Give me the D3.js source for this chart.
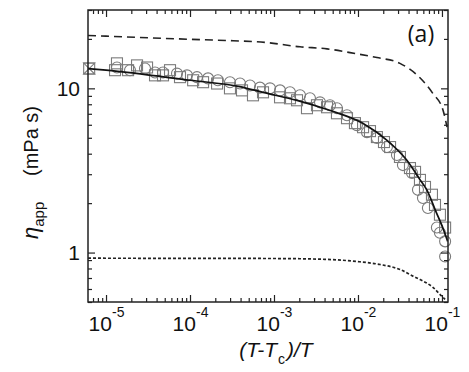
<!DOCTYPE html>
<html>
<head>
<meta charset="utf-8">
<script src="https://cdn.jsdelivr.net/npm/d3@7"></script>
<style>
  body { margin: 0; background: #fff; }
  svg { display: block; }
</style>
</head>
<body>
<div id="canvas"></div>
<script>
// x = (T-Tc)/T, y = apparent viscosity (mPa s)
const circleData = [
  [1.35e-5, 13.4], [1.93e-5, 12.9], [2.91e-5, 13.2], [3.83e-5, 12.5], [4.77e-5, 12.5],
  [7.0e-5, 12.3], [9.2e-5, 12.0], [1.21e-4, 11.7], [1.64e-4, 11.5], [2.15e-4, 11.2],
  [2.99e-4, 10.9], [3.94e-4, 10.7], [5.18e-4, 10.4], [6.8e-4, 10.1], [8.96e-4, 10.0],
  [1.18e-3, 9.72], [1.55e-3, 9.46], [2.04e-3, 9.07], [2.68e-3, 8.7], [3.53e-3, 8.22],
  [4.64e-3, 7.89], [5.62e-3, 7.57], [7.4e-3, 6.86], [9.7e-3, 5.97], [1.28e-2, 5.41],
  [1.68e-2, 4.98], [2.21e-2, 4.39], [2.91e-2, 3.93], [3.43e-2, 3.41], [4.4e-2, 3.05],
  [5.18e-2, 2.41], [5.94e-2, 2.15], [6.8e-2, 1.87], [8.7e-2, 1.42], [9.46e-2, 1.32],
  [0.109, 1.17], [0.109, 0.946]
];

const squareData = [
  [6.3e-6, 13.2],
  [1.35e-5, 14.2], [1.28e-5, 12.9], [1.83e-5, 12.9], [2.34e-5, 13.8], [3.08e-5, 13.4],
  [3.83e-5, 12.0], [4.77e-5, 12.0], [5.78e-5, 12.9], [7.6e-5, 11.7], [1.09e-4, 11.2],
  [1.43e-4, 10.9], [2.1e-4, 10.7], [2.99e-4, 10.0], [4.16e-4, 9.72], [5.62e-4, 9.07],
  [7.4e-4, 9.46], [1.18e-3, 8.82], [1.55e-3, 8.7], [1.88e-3, 8.46], [2.47e-3, 7.57],
  [3.25e-3, 7.89], [4.28e-3, 7.67], [5.62e-3, 7.05], [7.4e-3, 6.58], [9.2e-3, 6.14],
  [1.15e-2, 5.8], [1.39e-2, 5.49], [1.68e-2, 5.05], [2.04e-2, 4.71], [2.41e-2, 4.39],
  [3.16e-2, 3.82], [4.16e-2, 3.27], [4.78e-2, 3.1], [5.47e-2, 2.77], [6.28e-2, 2.51],
  [7.6e-2, 2.25], [8.26e-2, 1.95], [9.46e-2, 1.7], [0.109, 1.42]
];

// up + down triangle pair (hourglass) series
const triangleData = [
  [6.3e-6, 13.2]
];

const fitLine = [
  [6.1e-6, 13.2], [1e-5, 12.9], [1e-4, 11.2], [3.9e-4, 10.25], [7.4e-4, 9.45],
  [1.88e-3, 8.45], [4.6e-3, 7.35], [1.14e-2, 6.13], [2.2e-2, 4.84], [3.8e-2, 3.66],
  [5.5e-2, 2.77], [6.6e-2, 2.41], [8.5e-2, 1.77], [0.1, 1.46], [0.117, 1.17]
];

const upperLine = [
  [6.1e-6, 21.0], [1e-5, 20.8], [3.3e-5, 20.3], [1.31e-4, 19.8], [3.25e-4, 19.5],
  [8.26e-4, 19.0], [2.04e-3, 17.9], [4.28e-3, 17.4], [8.04e-3, 16.5], [1.68e-2, 15.4],
  [3.16e-2, 14.2], [5.47e-2, 11.6], [7.8e-2, 9.3], [0.103, 7.35], [0.115, 5.8]
];

const lowerLine = [
  [6.1e-6, 0.924], [1e-4, 0.922], [1e-3, 0.92], [4e-3, 0.91], [9.7e-3, 0.882],
  [1.83e-2, 0.846], [3.16e-2, 0.789], [4.6e-2, 0.715], [5.47e-2, 0.686], [7.8e-2, 0.614],
  [0.1, 0.541], [0.109, 0.519]
];

const xMajorTicks = [1e-5, 1e-4, 1e-3, 1e-2, 1e-1];
const xTickExponents = ["-5", "-4", "-3", "-2", "-1"];
const yMajorTicks = [1, 10];
const yTickLabels = ["1", "10"];

const width = 469, height = 372;
const plot = { left: 88, right: 448, top: 10, bottom: 302 };
const font = "'Liberation Sans', Arial, sans-serif";

const svg = d3.select("#canvas").append("svg")
  .attr("width", width)
  .attr("height", height)
  .style("font-family", font);

svg.append("rect").attr("width", width).attr("height", height).attr("fill", "#fff");

const x = d3.scaleLog().domain([6.1e-6, 0.118]).range([plot.left, plot.right]);
const y = d3.scaleLog().domain([0.5, 30]).range([plot.bottom, plot.top]);

const xMinor = x.ticks().filter(d => !xMajorTicks.some(m => Math.abs(m - d) / m < 1e-6));
const yMinor = y.ticks().filter(d => !yMajorTicks.some(m => Math.abs(m - d) / m < 1e-6));

svg.append("clipPath").attr("id", "clip")
  .append("rect")
  .attr("x", plot.left).attr("y", plot.top)
  .attr("width", plot.right - plot.left).attr("height", plot.bottom - plot.top);

// markers
const markers = svg.append("g")
  .attr("fill", "none")
  .attr("stroke", "#7a7a7a")
  .attr("stroke-width", 1.1);

markers.selectAll(".sq").data(squareData).enter().append("rect")
  .attr("x", d => x(d[0]) - 5.5)
  .attr("y", d => y(d[1]) - 5.5)
  .attr("width", 11).attr("height", 11);

markers.selectAll(".ci").data(circleData).enter().append("circle")
  .attr("cx", d => x(d[0]))
  .attr("cy", d => y(d[1]))
  .attr("r", 5.5);

// triangles: apex at the point, bases on the square edges
const tri = "M0,0L-5.5,5.5L5.5,5.5Z";
markers.selectAll(".tu").data(triangleData).enter().append("path")
  .attr("d", tri)
  .attr("transform", d => `translate(${x(d[0])},${y(d[1])})`);
markers.selectAll(".td").data(triangleData).enter().append("path")
  .attr("d", tri)
  .attr("transform", d => `translate(${x(d[0])},${y(d[1])}) rotate(180)`);

// lines
const line = d3.line()
  .x(d => x(d[0]))
  .y(d => y(d[1]))
  .curve(d3.curveMonotoneX);

const lines = svg.append("g").attr("clip-path", "url(#clip)").attr("fill", "none");

lines.append("path").attr("d", line(upperLine))
  .attr("stroke", "#222").attr("stroke-width", 1.6).attr("stroke-dasharray", "8,5");

lines.append("path").attr("d", line(lowerLine))
  .attr("stroke", "#222").attr("stroke-width", 1.7).attr("stroke-dasharray", "3,2");

lines.append("path").attr("d", line(fitLine))
  .attr("stroke", "#111").attr("stroke-width", 1.7);

// axes
function styleAxis(g) {
  g.select(".domain").remove();
  g.selectAll(".tick line").attr("stroke", "#222").attr("stroke-width", 1.2);
}

const axBottom = svg.append("g").attr("transform", `translate(0,${plot.bottom})`);
axBottom.append("g").call(d3.axisBottom(x).tickValues(xMinor).tickSize(-4).tickFormat("")).call(styleAxis);
axBottom.append("g").call(d3.axisBottom(x).tickValues(xMajorTicks).tickSize(-7).tickPadding(14))
  .call(styleAxis)
  .call(g => g.selectAll(".tick text").each(function(d, i) {
    const t = d3.select(this).text(null)
      .attr("fill", "#111").attr("font-size", 21)
      .attr("font-family", font);
    t.append("tspan").text("10");
    t.append("tspan").attr("dy", -14).attr("font-size", 14).text(xTickExponents[i]);
  }));

const axTop = svg.append("g").attr("transform", `translate(0,${plot.top})`);
axTop.append("g").call(d3.axisTop(x).tickValues(xMinor).tickSize(-4).tickFormat("")).call(styleAxis);
axTop.append("g").call(d3.axisTop(x).tickValues(xMajorTicks).tickSize(-7).tickFormat("")).call(styleAxis);

const axLeft = svg.append("g").attr("transform", `translate(${plot.left},0)`);
axLeft.append("g").call(d3.axisLeft(y).tickValues(yMinor).tickSize(-4).tickFormat("")).call(styleAxis);
axLeft.append("g").call(d3.axisLeft(y).tickValues(yMajorTicks).tickSize(-7).tickPadding(8)
    .tickFormat((d, i) => yTickLabels[i]))
  .call(styleAxis)
  .call(g => g.selectAll(".tick text")
    .attr("fill", "#111").attr("font-size", 21)
    .attr("font-family", font));

const axRight = svg.append("g").attr("transform", `translate(${plot.right},0)`);
axRight.append("g").call(d3.axisRight(y).tickValues(yMinor).tickSize(-4).tickFormat("")).call(styleAxis);
axRight.append("g").call(d3.axisRight(y).tickValues(yMajorTicks).tickSize(-7).tickFormat("")).call(styleAxis);

svg.append("rect")
  .attr("x", plot.left).attr("y", plot.top)
  .attr("width", plot.right - plot.left).attr("height", plot.bottom - plot.top)
  .attr("fill", "none").attr("stroke", "#222").attr("stroke-width", 1.5);

// titles
const xTitle = svg.append("text")
  .attr("x", 276).attr("y", 357)
  .attr("text-anchor", "middle")
  .attr("font-size", 21)
  .attr("fill", "#111")
  .attr("font-style", "italic");
xTitle.append("tspan").text("(T-T");
xTitle.append("tspan").attr("dy", 7).attr("dx", 1).attr("font-size", 14).attr("font-style", "normal").text("c");
xTitle.append("tspan").attr("dy", -7).attr("dx", 2).text(")/T");

const yTitle = svg.append("text")
  .attr("transform", "translate(38,239) rotate(-90)")
  .attr("fill", "#111");
yTitle.append("tspan").attr("font-style", "italic").attr("font-size", 22).text("η");
yTitle.append("tspan").attr("dy", 6).attr("font-size", 15).text("app");

svg.append("text")
  .attr("transform", "translate(38,106) rotate(-90)")
  .attr("text-anchor", "end")
  .attr("font-size", 20)
  .attr("fill", "#111")
  .text("(mPa s)");

svg.append("text")
  .attr("x", 421).attr("y", 42)
  .attr("text-anchor", "middle")
  .attr("font-family", "'Open Sans', sans-serif")
  .attr("font-size", 23)
  .attr("fill", "#111")
  .text("(a)");
</script>
</body>
</html>
